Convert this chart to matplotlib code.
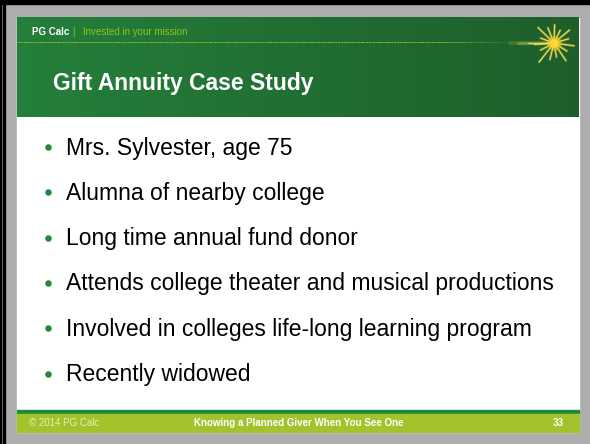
import numpy as np
import matplotlib.pyplot as plt
from matplotlib.patches import Rectangle

plt.rcParams['font.family'] = ['Liberation Sans', 'DejaVu Sans']

# slide content
brand = "PG Calc"
tagline = "Invested in your mission"
title = "Gift Annuity Case Study"
bullets = [
    "Mrs. Sylvester, age 75",
    "Alumna of nearby college",
    "Long time annual fund donor",
    "Attends college theater and musical productions",
    "Involved in colleges life-long learning program",
    "Recently widowed",
]
footer_left = "\u00a9 2014 PG Calc"
footer_mid = "Knowing a Planned Giver When You See One"
page_no = "33"

# colours
GRAY = '#adadad'
GREEN_L = (0.14, 0.50, 0.23)
GREEN_R = (0.12, 0.37, 0.17)
LIME = '#a3c32c'
DOT = '#1f8a3d'

fig = plt.figure(figsize=(5.9, 4.44), dpi=100)
fig.patch.set_facecolor(GRAY)
ax = fig.add_axes([0, 0, 1, 1])
ax.set_xlim(0, 590)
ax.set_ylim(444, 0)
ax.axis('off')

# window frame
ax.add_patch(Rectangle((0, 0), 590, 4.5, color='black', zorder=1))
ax.add_patch(Rectangle((0, 0), 4.5, 444, color='black', zorder=1))
ax.plot([2.2, 2.2], [5, 444], color='#777777', lw=0.6, zorder=2)

# slide body
ax.add_patch(Rectangle((17, 18), 562, 414, color='white', zorder=1))

# header gradient
grad = np.linspace(0, 1, 256)
img = np.zeros((2, 256, 3))
for i in range(3):
    img[:, :, i] = GREEN_L[i] + (GREEN_R[i] - GREEN_L[i]) * grad
ax.imshow(img, extent=[17, 579, 117, 18], aspect='auto', zorder=2)

# dashed lime rule, fading out to the right
xs = np.linspace(17, 515, 60)
for a, b in zip(xs[:-1], xs[1:]):
    fade = 1.0 if a < 440 else max(0.0, (515 - a) / 75)
    ax.plot([a, b], [42, 42], color='#8fc31f', lw=0.7, ls=(0, (2, 1)),
            alpha=fade, zorder=3)

ax.text(32, 32, brand, color='white', fontsize=7, fontweight='bold',
        va='center', ha='left', zorder=4)
ax.text(72, 32, "|", color='#8fc31f', fontsize=7, va='center', zorder=4)
ax.text(83, 32, tagline, color='#8fc31f', fontsize=7, va='center', zorder=4)

ax.text(53, 90, title, color='white', fontsize=16.5, fontweight='bold',
        va='baseline', ha='left', zorder=4)

# starburst
cx, cy = 554, 43
for x0, w, al in [(510, 3.0, 0.15), (518, 1.8, 0.35), (528, 1.0, 0.8)]:
    ax.plot([x0, cx], [cy, cy], color='#f6e35a', lw=w, alpha=al, zorder=3,
            solid_capstyle='round')
angles = np.deg2rad(np.arange(0, 360, 24) + 8)
lengths = [20, 15, 21, 14, 17, 24, 15, 19, 14, 22, 16, 18, 14, 20, 15]
for ang, ln in zip(angles, lengths):
    ax.plot([cx, cx + ln * np.cos(ang)], [cy, cy + ln * np.sin(ang)],
            color='#f3d83a', lw=1.8, alpha=0.35, zorder=3)
    ax.plot([cx, cx + ln * np.cos(ang)], [cy, cy + ln * np.sin(ang)],
            color='#f8e25a', lw=0.8, alpha=0.95, zorder=3)
ax.scatter([cx], [cy], s=110, color='#f5d020', alpha=0.45, zorder=4, lw=0)
ax.scatter([cx], [cy], s=40, color='#fbd83a', zorder=5, lw=0)

# bullets
y0, dy = 147, 45.3
for i, b in enumerate(bullets):
    y = y0 + i * dy
    ax.scatter([48], [y], s=22, color=DOT, zorder=4, lw=0)
    ax.text(66, y + 7.5, b, color='black', fontsize=16.5, va='baseline',
            ha='left', zorder=4)

# footer
ax.add_patch(Rectangle((17, 409.7), 562, 4, color=DOT, zorder=2))
ax.add_patch(Rectangle((17, 413.7), 562, 18, color=LIME, zorder=2))
ax.text(29, 423, footer_left, color='#e4efb4', fontsize=7, va='center',
        ha='left', zorder=4)
ax.text(299, 423, footer_mid, color='white', fontsize=7, fontweight='bold',
        va='center', ha='center', zorder=4)
ax.text(558, 423, page_no, color='white', fontsize=7, fontweight='bold',
        va='center', ha='center', zorder=4)

fig.savefig('out.png', dpi=100, facecolor=GRAY)
